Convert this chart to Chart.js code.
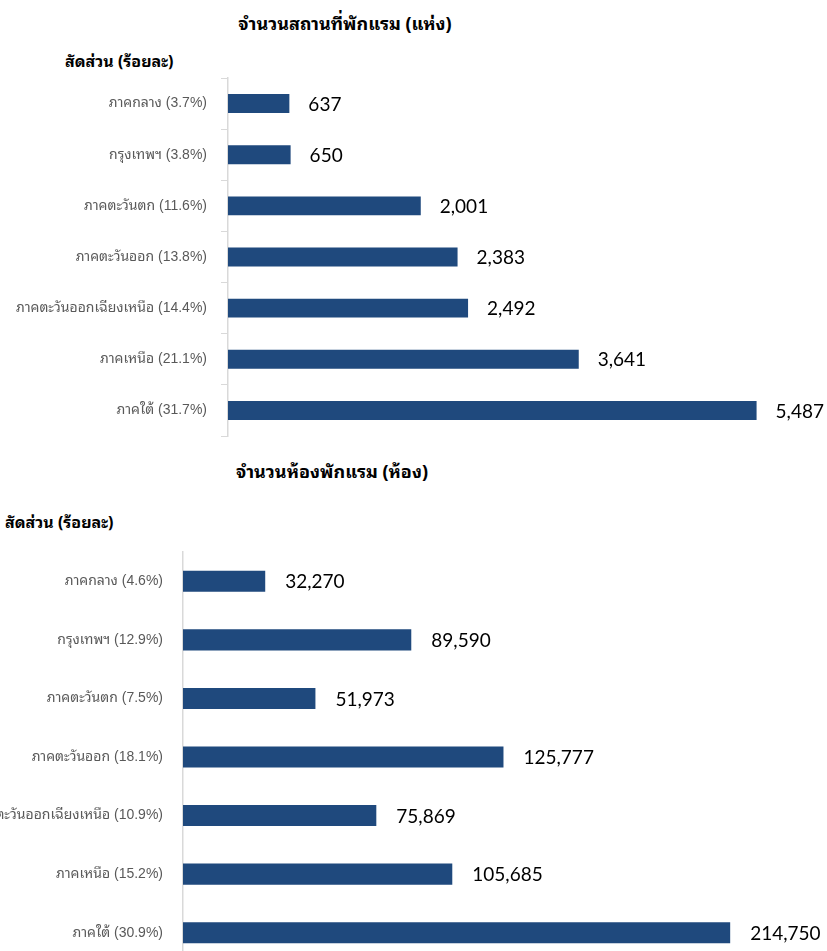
<!DOCTYPE html>
<html>
<head>
<meta charset="utf-8">
<script src="https://cdn.jsdelivr.net/npm/chart.js@4/dist/chart.umd.min.js"></script>
<style>
  html, body { margin: 0; padding: 0; background: #fff; overflow: hidden; }
  body { width: 827px; height: 951px; position: relative; }
  .box { position: absolute; left: 0; width: 827px; }
  .title { position: absolute; font-family: "Noto Sans Thai Looped", "Noto Sans Thai", "Noto Sans", "Liberation Sans", sans-serif; font-weight: bold; color: #000; white-space: nowrap; }
</style>
</head>
<body>
<div class="title" id="t1" style="left:345px; top:22px; font-size:18px; transform:translate(-50%,-50%);">จำนวนสถานที่พักแรม (แห่ง)</div>
<div class="title" id="s1" style="left:65px; top:60px; font-size:16px; transform:translateY(-50%);">สัดส่วน (ร้อยละ)</div>
<div class="title" id="t2" style="left:332px; top:470px; font-size:18px; transform:translate(-50%,-50%);">จำนวนห้องพักแรม (ห้อง)</div>
<div class="title" id="s2" style="left:5px; top:521px; font-size:16px; transform:translateY(-50%);">สัดส่วน (ร้อยละ)</div>

<div class="box" style="top:0; height:440px;"><canvas id="c1"></canvas></div>
<div class="box" style="top:445px; height:520px;"><canvas id="c2"></canvas></div>

<script>
// Regions, with their share of the total in brackets
const venueLabels = [
  "ภาคกลาง (3.7%)",
  "กรุงเทพฯ (3.8%)",
  "ภาคตะวันตก (11.6%)",
  "ภาคตะวันออก (13.8%)",
  "ภาคตะวันออกเฉียงเหนือ (14.4%)",
  "ภาคเหนือ (21.1%)",
  "ภาคใต้ (31.7%)"
];
// Number of accommodation establishments (places)
const venueCounts = [637, 650, 2001, 2383, 2492, 3641, 5487];

const roomLabels = [
  "ภาคกลาง (4.6%)",
  "กรุงเทพฯ (12.9%)",
  "ภาคตะวันตก (7.5%)",
  "ภาคตะวันออก (18.1%)",
  "ภาคตะวันออกเฉียงเหนือ (10.9%)",
  "ภาคเหนือ (15.2%)",
  "ภาคใต้ (30.9%)"
];
// Number of guest rooms
const roomCounts = [32270, 89590, 51973, 125777, 75869, 105685, 214750];

const BAR_COLOR = "#1F497D";
const AXIS_COLOR = "#d9d9d9";

// Writes each bar's value just past its end
const valueLabels = {
  id: "valueLabels",
  afterDatasetsDraw(chart, args, opts) {
    const ctx = chart.ctx;
    const meta = chart.getDatasetMeta(0);
    const data = chart.data.datasets[0].data;
    ctx.save();
    ctx.font = "19px Lato, 'Open Sans', sans-serif";
    ctx.fillStyle = "#000";
    ctx.textAlign = "left";
    ctx.textBaseline = "middle";
    meta.data.forEach((bar, i) => {
      ctx.fillText(data[i].toLocaleString("en-US"), bar.x + opts.offset, bar.y + 1);
    });
    ctx.restore();
  }
};

function makeChart(id, labels, values, cfg) {
  return new Chart(document.getElementById(id), {
    type: "bar",
    data: {
      labels: labels,
      datasets: [{
        data: values,
        backgroundColor: BAR_COLOR,
        borderWidth: 0,
        categoryPercentage: 1,
        barPercentage: cfg.barPct
      }]
    },
    options: {
      indexAxis: "y",
      responsive: true,
      maintainAspectRatio: false,
      animation: false,
      events: [],
      layout: { padding: cfg.padding },
      plugins: {
        legend: { display: false },
        tooltip: { enabled: false },
        valueLabels: { offset: cfg.labelOffset }
      },
      scales: {
        x: {
          display: false,
          min: 0,
          max: cfg.max
        },
        y: {
          afterFit(scale) {
            scale.width = cfg.axisX;
            // bands already hold the labels, so no extra room above or below
            scale.paddingTop = 0;
            scale.paddingBottom = 0;
          },
          grid: {
            display: true,
            drawOnChartArea: false,
            drawTicks: cfg.ticks,
            tickLength: 7,
            color: AXIS_COLOR,
            offset: true
          },
          border: { display: true, color: AXIS_COLOR, width: 1.5 },
          ticks: {
            color: "#595959",
            padding: cfg.tickPad,
            font: { family: "'Liberation Sans', 'Noto Sans Thai Looped', 'Noto Sans Thai', Arial, sans-serif", size: 14 }
          }
        }
      }
    },
    plugins: [valueLabels]
  });
}

makeChart("c1", venueLabels, venueCounts, {
  max: 6000, axisX: 228, barPct: 0.37, labelOffset: 19, ticks: true, tickPad: 14,
  padding: { left: 0, right: 21, top: 78, bottom: 4 }
});

makeChart("c2", roomLabels, roomCounts, {
  max: 250000, axisX: 183, barPct: 0.36, labelOffset: 20, ticks: false, tickPad: 20,
  padding: { left: 0, right: 7, top: 107, bottom: 3 }
});
</script>
</body>
</html>
